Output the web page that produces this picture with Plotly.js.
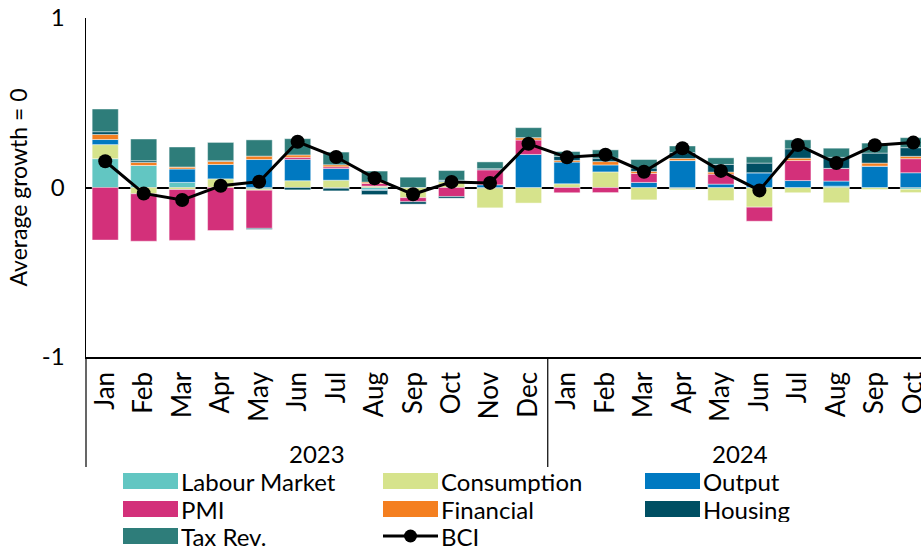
<!DOCTYPE html>
<html>
<head>
<meta charset="utf-8">
<script src="https://cdn.plot.ly/plotly-3.0.1.min.js"></script>
<style>
  html, body { margin: 0; padding: 0; background: #fff; }
  #chart { width: 921px; height: 549px; }
</style>
</head>
<body>
<div id="chart"></div>
<script>
// ---- data ----
var years = ["2023","2023","2023","2023","2023","2023","2023","2023","2023","2023","2023","2023",
             "2024","2024","2024","2024","2024","2024","2024","2024","2024","2024"];
var months = ["Jan","Feb","Mar","Apr","May","Jun","Jul","Aug","Sep","Oct","Nov","Dec",
              "Jan","Feb","Mar","Apr","May","Jun","Jul","Aug","Sep","Oct"];

var labourMarket = [0.17, 0.13, 0.03, 0, -0.008, 0, -0.005, -0.012, 0, 0, -0.004, 0,
                    0, 0, 0, -0.006, 0, 0, 0, 0.008, 0, -0.01];
var consumption  = [0.083, -0.037, -0.012, 0.051, -0.008, 0.04, 0.043, 0.008, -0.06, 0.035, -0.116, -0.092,
                    0.022, 0.092, -0.073, -0.008, -0.077, -0.116, -0.031, -0.09, -0.012, -0.02];
var output       = [0.03, 0, 0.079, 0.085, 0.165, 0.126, 0.069, -0.006, 0, 0.008, 0.016, 0.195,
                    0.128, 0.041, 0.03, 0.159, 0.02, 0.087, 0.041, 0.03, 0.126, 0.087];
var pmi          = [-0.31, -0.28, -0.30, -0.254, -0.225, 0.012, 0.01, 0.016, -0.024, -0.053, 0.089, 0.085,
                    -0.031, -0.03, 0.053, 0, 0.059, -0.083, 0.118, 0.075, 0, 0.083];
var financial    = [0.03, 0.018, 0.012, 0.018, 0.02, 0.014, 0.012, 0.008, 0, 0, 0, 0.014,
                    0.01, 0.02, 0.012, 0.012, 0.012, 0, 0.014, 0, 0.018, 0.014];
var housing      = [0.016, 0.01, 0, 0.004, -0.006, -0.014, -0.015, -0.024, -0.014, -0.01, 0.006, 0,
                    0.024, 0.02, 0.02, 0.035, 0.045, 0.057, 0.055, 0.065, 0.059, 0.051];
var taxRev       = [0.134, 0.128, 0.118, 0.108, 0.096, 0.096, 0.075, 0.065, 0.061, 0.057, 0.04, 0.059,
                    0.028, 0.049, 0.05, 0.039, 0.039, 0.037, 0.053, 0.054, 0.059, 0.059];
var bci          = [0.155, -0.035, -0.074, 0.01, 0.034, 0.27, 0.18, 0.055, -0.04, 0.033, 0.027, 0.258,
                    0.178, 0.193, 0.093, 0.232, 0.098, -0.017, 0.251, 0.144, 0.249, 0.265];

var yTickVals = [-1, 0, 1];
var yTickText = ["-1", "0", "1"];

// ---- styles ----
var series = [
  {name: "Labour Market", y: labourMarket, color: "#62C6C2"},
  {name: "Consumption",   y: consumption,  color: "#D6E38C"},
  {name: "Output",        y: output,       color: "#0079C1"},
  {name: "PMI",           y: pmi,          color: "#D3307A"},
  {name: "Financial",     y: financial,    color: "#F47F20"},
  {name: "Housing",       y: housing,      color: "#004F63"},
  {name: "Tax Rev.",      y: taxRev,       color: "#2E7D7A"}
];
var FONT = "Lato, 'Open Sans', sans-serif";

// unique category keys (month + year), labelled by month only
var cats = months.map(function (m, i) { return m + " " + years[i]; });
var X_MIN = -0.5, X_MAX = 21.2;

var traces = series.map(function (s) {
  return {
    type: "bar", name: s.name, x: cats, y: s.y,
    marker: {color: s.color, line: {color: "rgba(255,255,255,0.55)", width: 0.8}},
    showlegend: false, hoverinfo: "skip"
  };
});
traces.push({
  type: "scatter", mode: "lines+markers", name: "BCI", x: cats, y: bci,
  line: {color: "#000", width: 3}, marker: {color: "#000", size: 14},
  showlegend: false, cliponaxis: false
});

// ---- pixel → paper helpers ----
var L = 86, R = 921, T = 18, B = 357;
function px(x) { return (x - L) / (R - L); }
function py(y) { return (B - y) / (B - T); }
function catPaper(v) { return (v - X_MIN) / (X_MAX - X_MIN); }

var shapes = [], annotations = [];

// year group labels and dividers
var groups = [];
years.forEach(function (yr, i) {
  var g = groups[groups.length - 1];
  if (!g || g.name !== yr) { groups.push({name: yr, first: i, last: i}); }
  else { g.last = i; }
});
groups.forEach(function (g) {
  annotations.push({xref: "x", yref: "paper", x: (g.first + g.last) / 2, y: py(453),
    xanchor: "center", yanchor: "middle", showarrow: false, text: g.name, height: 26,
    font: {family: FONT, size: 24, color: "#000"}});
  shapes.push({type: "line", xref: "paper", yref: "paper",
    x0: catPaper(g.first - 0.5), x1: catPaper(g.first - 0.5), y0: py(357), y1: py(467),
    line: {color: "#000", width: 1.2}});
});

// manual legend
var legendItems = [
  {name: "Labour Market", color: series[0].color, col: 0, row: 0},
  {name: "Consumption",   color: series[1].color, col: 1, row: 0},
  {name: "Output",        color: series[2].color, col: 2, row: 0},
  {name: "PMI",           color: series[3].color, col: 0, row: 1},
  {name: "Financial",     color: series[4].color, col: 1, row: 1},
  {name: "Housing",       color: series[5].color, col: 2, row: 1},
  {name: "Tax Rev.",      color: series[6].color, col: 0, row: 2},
  {name: "BCI",           color: null,            col: 1, row: 2}
];
var colX = [123, 383, 645];
var rowY = [481, 509, 536];
var swW = 55, swH = 16;
legendItems.forEach(function (it) {
  var x0 = colX[it.col], yc = rowY[it.row];
  if (it.color) {
    shapes.push({type: "rect", xref: "paper", yref: "paper",
      x0: px(x0), x1: px(x0 + swW), y0: py(yc + swH / 2), y1: py(yc - swH / 2),
      fillcolor: it.color, line: {width: 0}});
  } else {
    shapes.push({type: "line", xref: "paper", yref: "paper",
      x0: px(x0), x1: px(x0 + swW), y0: py(yc), y1: py(yc),
      line: {color: "#000", width: 3}});
    var r = 6.5, cx = x0 + swW / 2;
    shapes.push({type: "circle", xref: "paper", yref: "paper",
      x0: px(cx - r), x1: px(cx + r), y0: py(yc + r), y1: py(yc - r),
      fillcolor: "#000", line: {width: 0}});
  }
  annotations.push({xref: "paper", yref: "paper", x: px(x0 + swW + 1), y: py(yc),
    xanchor: "left", yanchor: "middle", showarrow: false, text: it.name, height: 26,
    font: {family: FONT, size: 24, color: "#000"}});
});

var layout = {
  width: 921, height: 549,
  margin: {l: L, r: 0, t: T, b: 549 - B, pad: 0},
  paper_bgcolor: "#fff", plot_bgcolor: "#fff",
  barmode: "relative", bargap: 0.32,
  showlegend: false,
  font: {family: FONT, size: 22, color: "#000"},
  xaxis: {
    type: "category", range: [X_MIN, X_MAX],
    tickvals: cats, ticktext: months,
    showline: true, linecolor: "#000", linewidth: 1.5,
    showgrid: false, zeroline: false, ticks: "", ticklabelstandoff: 3,
    tickangle: -90, tickfont: {family: FONT, size: 26, color: "#000"},
    fixedrange: true
  },
  yaxis: {
    range: [-1, 1], tickvals: yTickVals, ticktext: yTickText,
    showline: true, linecolor: "#000", linewidth: 1.5,
    showgrid: false, zeroline: true, zerolinecolor: "#000", zerolinewidth: 2,
    ticks: "", ticklabelstandoff: 15,
    tickfont: {family: FONT, size: 24, color: "#000"},
    title: {text: "Average growth = 0", font: {family: FONT, size: 23, color: "#000"}, standoff: 8},
    fixedrange: true
  },
  shapes: shapes,
  annotations: annotations
};

Plotly.newPlot("chart", traces, layout, {displayModeBar: false, staticPlot: true});
</script>
</body>
</html>
